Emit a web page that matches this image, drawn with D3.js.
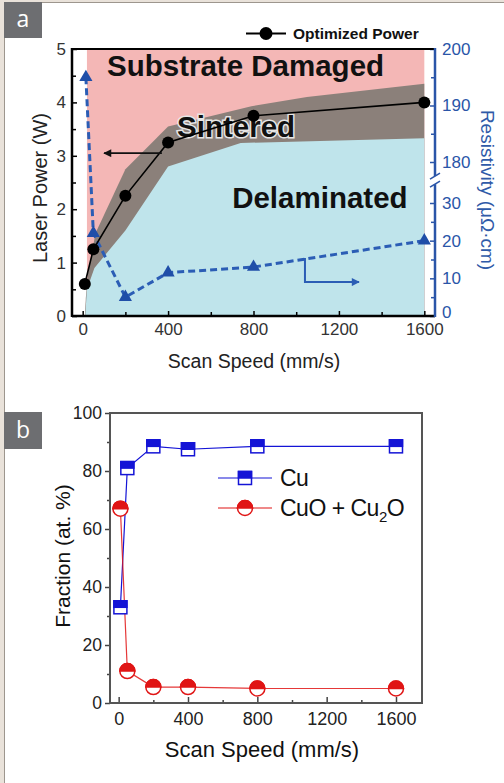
<!DOCTYPE html>
<html>
<head>
<meta charset="utf-8">
<script src="https://cdn.jsdelivr.net/npm/d3@7"></script>
<style>
  body { margin: 0; background: #e9e2da; }
  svg { display: block; }
  text { font-family: "Liberation Sans", Arial, sans-serif; }
</style>
</head>
<body>
<div id="fig"></div>
<script>
// ---- panel a data ----
var speedA = [10, 50, 200, 400, 800, 1600];
var powerOpt = [0.6, 1.25, 2.25, 3.25, 3.75, 4.0];
var resSpeed = [15, 50, 200, 400, 800, 1600];
var resistivity = [195, 22, 5, 11.5, 13, 20];
// process window boundaries (scan speed, laser power)
var sinterTop = [[10, 0], [15, 0.35], [25, 0.8], [60, 1.55], [200, 2.75], [400, 3.55], [790, 3.93], [1050, 4.1], [1600, 4.35]];
var sinterBottom = [[12, 0], [20, 0.5], [55, 0.9], [200, 1.6], [400, 2.8], [740, 3.24], [1600, 3.33]];
var damagedSpan = [20, 1600];
var powerTicks = [0, 1, 2, 3, 4, 5];
var resTicksLow = [0, 10, 20, 30];
var resTicksHigh = [180, 190, 200];
var speedTicks = [0, 400, 800, 1200, 1600];

// ---- panel b data ----
var speedB = [10, 50, 200, 400, 800, 1600];
var fracCu = [33, 81, 88.5, 87.5, 88.5, 88.5];
var fracOx = [67, 11, 5.5, 5.5, 5, 5];
var fracTicks = [0, 20, 40, 60, 80, 100];

var W = 504, H = 783;
var svg = d3.select("#fig").append("svg").attr("width", W).attr("height", H);

svg.append("rect").attr("width", W).attr("height", H).attr("fill", "#e9e2da");
svg.append("rect").attr("x", 4.5).attr("y", 2.5).attr("width", W).attr("height", H)
  .attr("fill", "#fff").attr("stroke", "#9d968e").attr("stroke-width", 1);

function panelLabel(y, h, txt, base) {
  svg.append("rect").attr("x", 4).attr("y", y).attr("width", 38).attr("height", h).attr("fill", "#6d6e71");
  svg.append("text").attr("x", 23).attr("y", base).attr("text-anchor", "middle")
    .style("font-family", "'Open Sans', sans-serif").attr("font-size", 23).attr("fill", "#fff").text(txt);
}
panelLabel(2, 36, "a", 27);
panelLabel(412, 37, "b", 438);

// ================= panel a =================
var blueAx = "#2a55a8";
var xA = d3.scaleLinear().domain([-50, 1650]).range([72, 435]);
var yA = d3.scaleLinear().domain([0, 5]).range([316, 49]);
var rLow = d3.scaleLinear().domain([0, 30]).range([316, 203]);
var rHigh = d3.scaleLinear().domain([180, 200]).range([162, 49]);
function rY(v) { return v >= 100 ? rHigh(v) : rLow(v); }

var ga = svg.append("g");

// regions
ga.append("rect")
  .attr("x", xA(damagedSpan[0])).attr("y", yA(5))
  .attr("width", xA(damagedSpan[1]) - xA(damagedSpan[0])).attr("height", yA(0) - yA(5))
  .attr("fill", "#f4b7b6");
var area = d3.area().x(function (d) { return xA(d[0]); }).y0(yA(0)).y1(function (d) { return yA(d[1]); });
ga.append("path").datum(sinterTop).attr("d", area).attr("fill", "#8b807a");
ga.append("path").datum(sinterBottom).attr("d", area).attr("fill", "#bfe4eb");

// region labels
var regionText = [
  { t: "Substrate Damaged", x: 114, y: 4.49, halo: false },
  { t: "Sintered", x: 442, y: 3.35, halo: true },
  { t: "Delaminated", x: 700, y: 2.02, halo: false }
];
ga.selectAll(".reg").data(regionText).enter().append("text")
  .attr("x", function (d) { return xA(d.x); })
  .attr("y", function (d) { return yA(d.y); })
  .attr("font-size", 29.5).attr("font-weight", "bold").attr("fill", "#111")
  .attr("stroke", function (d) { return d.halo ? "#e6e6e6" : "none"; })
  .attr("stroke-width", 3).style("paint-order", "stroke")
  .text(function (d) { return d.t; });

// resistivity dashed line + triangles
var resPts = resSpeed.map(function (s, i) { return [xA(s), rY(resistivity[i])]; });
ga.append("path").datum(resPts).attr("d", d3.line())
  .attr("fill", "none").attr("stroke", "#2b5db5").attr("stroke-width", 3).attr("stroke-dasharray", "7,4");
ga.selectAll(".tri").data(resPts).enter().append("path")
  .attr("transform", function (d) { return "translate(" + d[0] + "," + d[1] + ")"; })
  .attr("d", d3.symbol().type(d3.symbolTriangle).size(75))
  .attr("fill", "#1f4ea8");

// optimized power line + dots
var powPts = speedA.map(function (s, i) { return [xA(s), yA(powerOpt[i])]; });
ga.append("path").datum(powPts).attr("d", d3.line())
  .attr("fill", "none").attr("stroke", "#000").attr("stroke-width", 1.6);
ga.selectAll(".dot").data(powPts).enter().append("circle")
  .attr("cx", function (d) { return d[0]; }).attr("cy", function (d) { return d[1]; })
  .attr("r", 6).attr("fill", "#000");

// arrows pointing to the matching axis
var defs = svg.append("defs");
function head(id, col) {
  defs.append("marker").attr("id", id).attr("viewBox", "0 0 10 10").attr("refX", 9).attr("refY", 5)
    .attr("markerWidth", 9).attr("markerHeight", 8).attr("markerUnits", "userSpaceOnUse").attr("orient", "auto")
    .append("path").attr("d", "M0,0L10,5L0,10Z").attr("fill", col);
}
head("hk", "#111");
head("hb", "#2b5db5");
var powArrow = [[371, 3.05], [100, 3.05]];
ga.append("path").datum(powArrow)
  .attr("d", d3.line().x(function (d) { return xA(d[0]); }).y(function (d) { return yA(d[1]); }))
  .attr("fill", "none").attr("stroke", "#111").attr("stroke-width", 1.8).attr("marker-end", "url(#hk)");
var resArrow = [[1041, 15.4], [1041, 9], [1294, 9]];
ga.append("path").datum(resArrow)
  .attr("d", d3.line().x(function (d) { return xA(d[0]); }).y(function (d) { return rLow(d[1]); }))
  .attr("fill", "none").attr("stroke", "#2b5db5").attr("stroke-width", 2).attr("marker-end", "url(#hb)");

// axes panel a
function styleAxis(g, col, size) {
  g.select(".domain").remove();
  g.selectAll("line").attr("stroke", col).attr("stroke-width", 1.5);
  g.selectAll("text").attr("fill", col).attr("font-size", size)
    .style("font-family", "'Liberation Sans', Arial, sans-serif");
}
var fmt = d3.format("d");

var axL = ga.append("g").attr("transform", "translate(72,0)")
  .call(d3.axisLeft(yA).tickValues(powerTicks).tickSize(-5).tickPadding(6).tickFormat(fmt));
styleAxis(axL, "#333", 17);
axL.selectAll("line").attr("stroke", "#000");
var axLm = ga.append("g").attr("transform", "translate(72,0)")
  .call(d3.axisLeft(yA).tickValues(d3.range(0.5, 5, 1)).tickSize(-4).tickFormat(""));
styleAxis(axLm, "#000", 1);

var axB = ga.append("g").attr("transform", "translate(0,316)")
  .call(d3.axisBottom(xA).tickValues(speedTicks).tickSize(-5).tickPadding(7).tickFormat(fmt));
styleAxis(axB, "#333", 17);
axB.selectAll("line").attr("stroke", "#000");
var axBm = ga.append("g").attr("transform", "translate(0,316)")
  .call(d3.axisBottom(xA).tickValues(d3.range(200, 1600, 400)).tickSize(-4).tickFormat(""));
styleAxis(axBm, "#000", 1);

var axRl = ga.append("g").attr("transform", "translate(435,0)")
  .call(d3.axisRight(rLow).tickValues(resTicksLow).tickSize(-5).tickPadding(7).tickFormat(fmt));
styleAxis(axRl, blueAx, 17);
axRl.selectAll("text").filter(function (d) { return d === 0; }).attr("dy", "0.1em");
var axRlm = ga.append("g").attr("transform", "translate(435,0)")
  .call(d3.axisRight(rLow).tickValues([5, 15, 25]).tickSize(-4).tickFormat(""));
styleAxis(axRlm, blueAx, 1);
var axRh = ga.append("g").attr("transform", "translate(435,0)")
  .call(d3.axisRight(rHigh).tickValues(resTicksHigh).tickSize(-5).tickPadding(7).tickFormat(fmt));
styleAxis(axRh, blueAx, 17);
var axRhm = ga.append("g").attr("transform", "translate(435,0)")
  .call(d3.axisRight(rHigh).tickValues([185, 195]).tickSize(-4).tickFormat(""));
styleAxis(axRhm, blueAx, 1);

// frame lines
ga.append("line").attr("x1", 72).attr("x2", 435).attr("y1", yA(5)).attr("y2", yA(5)).attr("stroke", "#000").attr("stroke-width", 2.2);
ga.append("line").attr("x1", 72).attr("x2", 435).attr("y1", yA(0)).attr("y2", yA(0)).attr("stroke", "#000").attr("stroke-width", 2.5);
ga.append("line").attr("x1", 72).attr("x2", 72).attr("y1", yA(5) - 1).attr("y2", yA(0) + 1).attr("stroke", "#000").attr("stroke-width", 2.5);
var brkLo = rLow(35), brkHi = rHigh(177.5);
ga.append("line").attr("x1", 435).attr("x2", 435).attr("y1", yA(5) - 1).attr("y2", brkHi).attr("stroke", blueAx).attr("stroke-width", 2.5);
ga.append("line").attr("x1", 435).attr("x2", 435).attr("y1", brkLo).attr("y2", yA(0) + 1).attr("stroke", blueAx).attr("stroke-width", 2.5);
[brkHi, brkLo].forEach(function (y) {
  ga.append("line").attr("x1", 430).attr("x2", 440).attr("y1", y + 3).attr("y2", y - 3)
    .attr("stroke", blueAx).attr("stroke-width", 1.6);
});

// axis titles a
ga.append("text").attr("transform", "translate(47,188) rotate(-90)").attr("text-anchor", "middle")
  .attr("font-size", 20).attr("fill", "#222").text("Laser Power (W)");
ga.append("text").attr("x", 254).attr("y", 368).attr("text-anchor", "middle")
  .attr("font-size", 19.5).attr("fill", "#222").text("Scan Speed (mm/s)");
ga.append("text").attr("transform", "translate(481,190) rotate(90)").attr("text-anchor", "middle")
  .attr("font-size", 19).attr("fill", "#2f5aa8").text("Resistivity (\u03bc\u03a9\u00b7cm)");

// legend a
ga.append("line").attr("x1", 246).attr("x2", 286).attr("y1", 33.5).attr("y2", 33.5).attr("stroke", "#000").attr("stroke-width", 2);
ga.append("circle").attr("cx", 266).attr("cy", 33.5).attr("r", 6.5).attr("fill", "#000");
ga.append("text").attr("x", 293).attr("y", 39).attr("font-size", 15.5).attr("font-weight", "bold")
  .attr("fill", "#111").text("Optimized Power");

// ================= panel b =================
var cuCol = "#1414d6", oxCol = "#e01515";
var xB = d3.scaleLinear().domain([-50, 1750]).range([110, 422]);
var yB = d3.scaleLinear().domain([0, 100]).range([703, 413]);
var gb = svg.append("g");

var axYb = gb.append("g").attr("transform", "translate(110,0)")
  .call(d3.axisLeft(yB).tickValues(fracTicks).tickSize(5).tickPadding(3).tickFormat(fmt));
styleAxis(axYb, "#222", 17.5);
axYb.selectAll("line").attr("stroke", "#444");
var axYbm = gb.append("g").attr("transform", "translate(110,0)")
  .call(d3.axisLeft(yB).tickValues(d3.range(10, 100, 20)).tickSize(3).tickFormat(""));
styleAxis(axYbm, "#444", 1);
var axXb = gb.append("g").attr("transform", "translate(0,703)")
  .call(d3.axisBottom(xB).tickValues(speedTicks).tickSize(-6).tickPadding(9).tickFormat(fmt));
styleAxis(axXb, "#222", 18);
axXb.selectAll("line").attr("stroke", "#444");
var axXbm = gb.append("g").attr("transform", "translate(0,703)")
  .call(d3.axisBottom(xB).tickValues(d3.range(200, 1600, 400)).tickSize(-3).tickFormat(""));
styleAxis(axXbm, "#444", 1);

gb.append("rect").attr("x", 110).attr("y", 413).attr("width", 312).attr("height", 290)
  .attr("fill", "none").attr("stroke", "#555").attr("stroke-width", 2);

var line = d3.line();
var cuPts = speedB.map(function (s, i) { return [xB(s), yB(fracCu[i])]; });
var oxPts = speedB.map(function (s, i) { return [xB(s), yB(fracOx[i])]; });
gb.append("path").datum(cuPts).attr("d", line).attr("fill", "none").attr("stroke", cuCol).attr("stroke-width", 1.2);
gb.append("path").datum(oxPts).attr("d", line).attr("fill", "none").attr("stroke", oxCol).attr("stroke-width", 1.2).attr("opacity", 0.85);

function halfSquare(g, x, y) {
  var s = 13;
  g.append("rect").attr("x", x - s / 2).attr("y", y - s / 2).attr("width", s).attr("height", s)
    .attr("fill", "#fff").attr("stroke", cuCol).attr("stroke-width", 1.5);
  g.append("rect").attr("x", x - s / 2).attr("y", y - s / 2).attr("width", s).attr("height", s / 2)
    .attr("fill", cuCol).attr("stroke", cuCol).attr("stroke-width", 1.5);
}
function halfCircle(g, x, y) {
  var r = 7.5;
  g.append("circle").attr("cx", x).attr("cy", y).attr("r", r)
    .attr("fill", "#fff").attr("stroke", oxCol).attr("stroke-width", 1.5);
  g.append("path").attr("d", "M" + (x - r) + "," + y + "A" + r + "," + r + " 0 0 1 " + (x + r) + "," + y + "Z")
    .attr("fill", oxCol).attr("stroke", oxCol).attr("stroke-width", 1.5);
}
oxPts.forEach(function (p) { halfCircle(gb, p[0], p[1]); });
cuPts.forEach(function (p) { halfSquare(gb, p[0], p[1]); });

// legend b
gb.append("line").attr("x1", 218).attr("x2", 272).attr("y1", 478).attr("y2", 478).attr("stroke", cuCol).attr("stroke-width", 1.2);
halfSquare(gb, 245, 478);
gb.append("line").attr("x1", 218).attr("x2", 272).attr("y1", 508).attr("y2", 508).attr("stroke", oxCol).attr("stroke-width", 1.2);
halfCircle(gb, 245, 508);
gb.append("text").attr("x", 280).attr("y", 486).attr("font-size", 23).attr("fill", "#111").attr("letter-spacing", -0.5).text("Cu");
var t2 = gb.append("text").attr("x", 280).attr("y", 516).attr("font-size", 23).attr("fill", "#111").attr("letter-spacing", -0.5);
t2.append("tspan").text("CuO + Cu");
t2.append("tspan").attr("font-size", 15).attr("dy", 6).text("2");
t2.append("tspan").attr("dy", -6).text("O");

// axis titles b
gb.append("text").attr("transform", "translate(70,556) rotate(-90)").attr("text-anchor", "middle")
  .attr("font-size", 21).attr("fill", "#111").text("Fraction (at. %)");
gb.append("text").attr("x", 262).attr("y", 757).attr("text-anchor", "middle")
  .attr("font-size", 22).attr("fill", "#111").text("Scan Speed (mm/s)");
</script>
</body>
</html>
